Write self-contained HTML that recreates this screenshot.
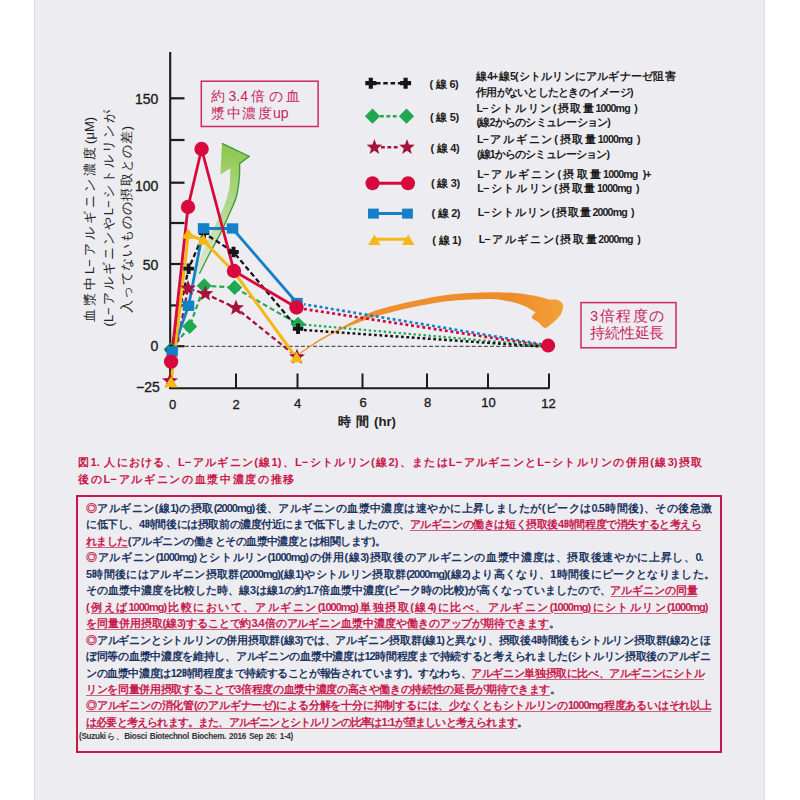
<!DOCTYPE html>
<html lang="ja"><head><meta charset="utf-8"><title>Figure 1</title>
<style>
:root{--k:1;}
html,body{margin:0;padding:0;}
body{width:800px;height:800px;position:relative;overflow:hidden;background:#fff;font-family:"Liberation Sans",sans-serif;}
#panel{position:absolute;left:34px;top:0;width:731px;height:800px;background:#edecf0;box-shadow:inset 2px 0 1px -1px rgba(60,50,80,0.08),inset -2px 0 1px -1px rgba(60,50,80,0.08);}
svg{position:absolute;left:0;top:0;}
.L{position:absolute;white-space:nowrap;overflow:visible;}
.j{text-align:justify;text-align-last:justify;}
.r{color:#c81a4e;text-decoration:underline;text-decoration-color:#d0607f;text-underline-offset:1.5px;text-decoration-thickness:1.1px;}
.m{color:#c81a4e;}
.rot{position:absolute;transform:rotate(-90deg);transform-origin:50% 50%;white-space:nowrap;}
</style></head><body>
<div id="panel"></div>
<svg width="800" height="800" viewBox="0 0 800 800"><path d="M170.2 52.0L170.2 389.0" fill="none" stroke="#1c1c1c" stroke-width="2.10" stroke-linecap="butt" stroke-linejoin="round"/><path d="M169.2 388.2L549.5 388.2" fill="none" stroke="#1c1c1c" stroke-width="2.10" stroke-linecap="butt" stroke-linejoin="round"/><path d="M170.2 98.3L184.5 98.3" fill="none" stroke="#1c1c1c" stroke-width="2.20" stroke-linecap="butt" stroke-linejoin="round"/><path d="M170.2 140.0L184.5 140.0" fill="none" stroke="#1c1c1c" stroke-width="2.20" stroke-linecap="butt" stroke-linejoin="round"/><path d="M170.2 182.7L184.5 182.7" fill="none" stroke="#1c1c1c" stroke-width="2.20" stroke-linecap="butt" stroke-linejoin="round"/><path d="M170.2 223.0L184.5 223.0" fill="none" stroke="#1c1c1c" stroke-width="2.20" stroke-linecap="butt" stroke-linejoin="round"/><path d="M170.2 264.0L184.5 264.0" fill="none" stroke="#1c1c1c" stroke-width="2.20" stroke-linecap="butt" stroke-linejoin="round"/><path d="M170.2 305.4L184.5 305.4" fill="none" stroke="#1c1c1c" stroke-width="2.20" stroke-linecap="butt" stroke-linejoin="round"/><path d="M170.2 346.2L184.5 346.2" fill="none" stroke="#1c1c1c" stroke-width="2.20" stroke-linecap="butt" stroke-linejoin="round"/><path d="M236.0 373.5L236.0 388.0" fill="none" stroke="#1c1c1c" stroke-width="2.00" stroke-linecap="butt" stroke-linejoin="round"/><path d="M297.5 373.5L297.5 388.0" fill="none" stroke="#1c1c1c" stroke-width="2.00" stroke-linecap="butt" stroke-linejoin="round"/><path d="M362.5 373.5L362.5 388.0" fill="none" stroke="#1c1c1c" stroke-width="2.00" stroke-linecap="butt" stroke-linejoin="round"/><path d="M427.0 373.5L427.0 388.0" fill="none" stroke="#1c1c1c" stroke-width="2.00" stroke-linecap="butt" stroke-linejoin="round"/><path d="M488.0 373.5L488.0 388.0" fill="none" stroke="#1c1c1c" stroke-width="2.00" stroke-linecap="butt" stroke-linejoin="round"/><path d="M549.0 373.5L549.0 388.0" fill="none" stroke="#1c1c1c" stroke-width="2.00" stroke-linecap="butt" stroke-linejoin="round"/><path d="M185.0 346.3L548.0 346.3" fill="none" stroke="#555" stroke-width="1.20" stroke-dasharray="4 2.1" stroke-linecap="butt" stroke-linejoin="round"/><defs><linearGradient id="og" x1="300" y1="0" x2="565" y2="0" gradientUnits="userSpaceOnUse"><stop offset="0" stop-color="#f0922e"/><stop offset="0.8" stop-color="#ee8b2c"/><stop offset="1" stop-color="#f3a23a"/></linearGradient></defs><path d="M299.80 352.80 C303.33 350.43 313.30 343.23 321.00 338.60 C328.70 333.97 337.67 329.40 346.00 325.00 C354.33 320.60 362.67 315.53 371.00 312.20 C379.33 308.87 387.67 307.10 396.00 305.00 C404.33 302.90 412.67 301.27 421.00 299.60 C429.33 297.93 437.67 296.10 446.00 295.00 C454.33 293.90 462.67 293.47 471.00 293.00 C479.33 292.53 487.83 292.10 496.00 292.20 C504.17 292.30 512.67 292.80 520.00 293.60 C527.33 294.40 535.17 296.00 540.00 297.00 C544.83 298.00 547.50 299.17 549.00 299.60 C550.25 299.60 554.42 299.12 556.50 299.60 C558.58 300.08 560.38 301.27 561.50 302.50 C562.62 303.73 563.45 304.83 563.20 307.00 C562.95 309.17 561.87 312.75 560.00 315.50 C558.13 318.25 554.50 321.42 552.00 323.50 C549.50 325.58 547.25 328.17 545.00 328.00 C542.75 327.83 540.70 324.23 538.50 322.50 C536.30 320.77 532.30 319.32 531.80 317.60 C531.30 315.88 534.88 313.10 535.50 312.20 C532.92 310.87 526.58 306.35 520.00 304.20 C513.42 302.05 504.17 300.10 496.00 299.30 C487.83 298.50 479.33 299.07 471.00 299.40 C462.67 299.73 454.33 300.27 446.00 301.30 C437.67 302.33 429.33 303.98 421.00 305.60 C412.67 307.22 404.33 308.93 396.00 311.00 C387.67 313.07 379.33 315.23 371.00 318.00 C362.67 320.77 354.33 323.88 346.00 327.60 C337.67 331.32 328.57 335.93 321.00 340.30 C313.43 344.67 304.00 351.55 300.60 353.80 Z" fill="url(#og)"/><defs><linearGradient id="gg" x1="0" y1="1" x2="0" y2="0"><stop offset="0" stop-color="#c4e2a0" stop-opacity="0.2"/><stop offset="0.45" stop-color="#a9d67c" stop-opacity="0.75"/><stop offset="1" stop-color="#8cc64a"/></linearGradient></defs><path d="M222 143.3 L249.2 156.4 L239.60 163.60 C239.55 166.00 239.87 172.43 239.30 178.00 C238.73 183.57 238.00 190.72 236.20 197.00 C234.40 203.28 231.20 209.47 228.50 215.70 C225.80 221.93 223.28 227.85 220.00 234.40 C216.72 240.95 212.23 248.43 208.80 255.00 C205.37 261.57 201.67 268.63 199.40 273.80 C197.13 278.97 195.90 283.97 195.20 286.00 C195.58 282.67 195.55 273.33 197.50 266.00 C199.45 258.67 203.77 249.17 206.90 242.00 C210.03 234.83 213.33 229.27 216.30 223.00 C219.27 216.73 222.52 210.32 224.70 204.40 C226.88 198.48 228.47 192.82 229.40 187.50 C230.33 182.18 230.13 175.72 230.30 172.50 C230.47 169.28 230.38 168.92 230.40 168.20 L220.4 174.4 Z" fill="url(#gg)"/><path d="M222 143.3 L249.2 156.4 L239.60 163.60 C239.55 166.00 239.87 172.43 239.30 178.00 C238.73 183.57 238.00 190.72 236.20 197.00 C234.40 203.28 231.20 209.47 228.50 215.70 C225.80 221.93 223.28 227.85 220.00 234.40 C216.72 240.95 212.23 248.43 208.80 255.00 C205.37 261.57 200.97 270.67 199.40 273.80" fill="none" stroke="#3f9e3f" stroke-width="1.4"/><path d="M304 304.2L548 345.3" fill="none" stroke="#1580c8" stroke-width="2.6" stroke-dasharray="2.9 2.8" stroke-dashoffset="1.3"/><path d="M304 309.0L548 346.4" fill="none" stroke="#cc0c3c" stroke-width="2.7" stroke-dasharray="2.9 2.8"/><path d="M304.0 324.6L548.0 346.2" fill="none" stroke="#1fa84f" stroke-width="2.20" stroke-dasharray="2.4 2.6" stroke-linecap="butt" stroke-linejoin="round"/><path d="M304.0 330.0L548.0 347.0" fill="none" stroke="#161616" stroke-width="2.50" stroke-dasharray="2.8 2.6" stroke-linecap="butt" stroke-linejoin="round"/><path d="M171.0 349.5L189.7 326.5L204.2 285.8L234.6 287.5L298.0 324.2" fill="none" stroke="#1fa84f" stroke-width="2.20" stroke-dasharray="5 3" stroke-linecap="butt" stroke-linejoin="round"/><path d="M170.0 381.0L188.0 288.3L205.3 293.8L236.0 308.0L297.0 357.0" fill="none" stroke="#a8123a" stroke-width="2.30" stroke-dasharray="5 3" stroke-linecap="butt" stroke-linejoin="round"/><path d="M171.0 350.0L188.6 268.6L204.0 233.0L233.5 252.0L298.0 328.8" fill="none" stroke="#161616" stroke-width="2.30" stroke-dasharray="5 3" stroke-linecap="butt" stroke-linejoin="round"/><path d="M172.2 351.3L188.6 305.7L203.5 228.3L232.5 228.5L297.0 303.0" fill="none" stroke="#1580c8" stroke-width="2.80" stroke-linecap="butt" stroke-linejoin="round"/><path d="M171.0 383.0L188.3 234.5L203.5 240.5L234.0 272.0L296.5 358.0" fill="none" stroke="#f6b817" stroke-width="3.00" stroke-linecap="butt" stroke-linejoin="round"/><path d="M171.1 361.6L188.0 207.0L201.6 149.0L234.0 271.0L296.5 307.5" fill="none" stroke="#d8093c" stroke-width="2.80" stroke-linecap="butt" stroke-linejoin="round"/><path d="M171.0 342.0L178.5 349.5L171.0 357.0L163.5 349.5Z" fill="#1fa84f"/><path d="M189.7 319.0L197.2 326.5L189.7 334.0L182.2 326.5Z" fill="#1fa84f"/><path d="M204.2 278.3L211.7 285.8L204.2 293.3L196.7 285.8Z" fill="#1fa84f"/><path d="M234.6 280.0L242.1 287.5L234.6 295.0L227.1 287.5Z" fill="#1fa84f"/><path d="M298.0 316.7L305.5 324.2L298.0 331.7L290.5 324.2Z" fill="#1fa84f"/><path d="M170.0 372.6L172.1 378.1L178.0 378.4L173.4 382.1L174.9 387.8L170.0 384.5L165.1 387.8L166.6 382.1L162.0 378.4L167.9 378.1Z" fill="#a8123a"/><path d="M188.0 279.9L190.1 285.4L196.0 285.7L191.4 289.4L192.9 295.1L188.0 291.8L183.1 295.1L184.6 289.4L180.0 285.7L185.9 285.4Z" fill="#a8123a"/><path d="M205.3 285.4L207.4 290.9L213.3 291.2L208.7 294.9L210.2 300.6L205.3 297.3L200.4 300.6L201.9 294.9L197.3 291.2L203.2 290.9Z" fill="#a8123a"/><path d="M236.0 299.6L238.1 305.1L244.0 305.4L239.4 309.1L240.9 314.8L236.0 311.5L231.1 314.8L232.6 309.1L228.0 305.4L233.9 305.1Z" fill="#a8123a"/><path d="M297.0 348.6L299.1 354.1L305.0 354.4L300.4 358.1L301.9 363.8L297.0 360.5L292.1 363.8L293.6 358.1L289.0 354.4L294.9 354.1Z" fill="#a8123a"/><path d="M169.1 344.8h3.9v3.3h3.3v3.9h-3.3v3.3h-3.9v-3.3h-3.3v-3.9h3.3Z" fill="#161616"/><path d="M186.7 263.4h3.9v3.3h3.3v3.9h-3.3v3.3h-3.9v-3.3h-3.3v-3.9h3.3Z" fill="#161616"/><path d="M202.1 227.8h3.9v3.3h3.3v3.9h-3.3v3.3h-3.9v-3.3h-3.3v-3.9h3.3Z" fill="#161616"/><path d="M231.6 246.8h3.9v3.3h3.3v3.9h-3.3v3.3h-3.9v-3.3h-3.3v-3.9h3.3Z" fill="#161616"/><path d="M296.1 323.6h3.9v3.3h3.3v3.9h-3.3v3.3h-3.9v-3.3h-3.3v-3.9h3.3Z" fill="#161616"/><rect x="166.4" y="346.2" width="11.5" height="10.3" fill="#1580c8"/><rect x="182.8" y="300.6" width="11.5" height="10.3" fill="#1580c8"/><rect x="197.8" y="223.2" width="11.5" height="10.3" fill="#1580c8"/><rect x="226.8" y="223.3" width="11.5" height="10.3" fill="#1580c8"/><rect x="291.2" y="297.9" width="11.5" height="10.3" fill="#1580c8"/><path d="M171.0 376.8L177.5 387.2L164.5 387.2Z" fill="#f6b817"/><path d="M188.3 228.2L194.8 238.8L181.8 238.8Z" fill="#f6b817"/><path d="M203.5 234.2L210.0 244.8L197.0 244.8Z" fill="#f6b817"/><path d="M234.0 265.8L240.5 276.2L227.5 276.2Z" fill="#f6b817"/><path d="M296.5 351.8L303.0 362.2L290.0 362.2Z" fill="#f6b817"/><circle cx="171.1" cy="361.6" r="7.2" fill="#d8093c"/><circle cx="188.0" cy="207.0" r="7.2" fill="#d8093c"/><circle cx="201.6" cy="149.0" r="7.2" fill="#d8093c"/><circle cx="234.0" cy="271.0" r="7.2" fill="#d8093c"/><circle cx="296.5" cy="307.5" r="7.2" fill="#d8093c"/><circle cx="548.2" cy="345.6" r="7.0" fill="#d8093c"/><path d="M171.0 377.0L177.5 387.0L164.5 387.0Z" fill="#f6b817"/><path d="M376.0 83.2L401.0 83.2" fill="none" stroke="#161616" stroke-width="2.40" stroke-dasharray="4.5 2.8" stroke-linecap="butt" stroke-linejoin="round"/><path d="M368.7 77.7h4.2v3.4h3.4v4.2h-3.4v3.4h-4.2v-3.4h-3.4v-4.2h3.4Z" fill="#161616"/><path d="M403.5 77.7h4.2v3.4h3.4v4.2h-3.4v3.4h-4.2v-3.4h-3.4v-4.2h3.4Z" fill="#161616"/><path d="M380.0 116.2L399.0 116.2" fill="none" stroke="#1fa84f" stroke-width="2.40" stroke-dasharray="3.8 2.6" stroke-linecap="butt" stroke-linejoin="round"/><path d="M372.5 108.6L380.1 116.2L372.5 123.8L364.9 116.2Z" fill="#1fa84f"/><path d="M406.5 108.6L414.1 116.2L406.5 123.8L398.9 116.2Z" fill="#1fa84f"/><path d="M381.0 147.3L400.0 147.3" fill="none" stroke="#a8123a" stroke-width="2.40" stroke-dasharray="3.8 2.6" stroke-linecap="butt" stroke-linejoin="round"/><path d="M374.4 139.1L376.4 144.5L382.2 144.8L377.7 148.4L379.2 153.9L374.4 150.7L369.6 153.9L371.1 148.4L366.6 144.8L372.4 144.5Z" fill="#a8123a"/><path d="M407.0 139.1L409.0 144.5L414.8 144.8L410.3 148.4L411.8 153.9L407.0 150.7L402.2 153.9L403.7 148.4L399.2 144.8L405.0 144.5Z" fill="#a8123a"/><path d="M372.0 183.2L408.0 183.2" fill="none" stroke="#d8093c" stroke-width="3.00" stroke-linecap="butt" stroke-linejoin="round"/><circle cx="372.5" cy="183.2" r="7.0" fill="#d8093c"/><circle cx="408.0" cy="183.2" r="7.0" fill="#d8093c"/><path d="M373.0 213.6L407.0 213.6" fill="none" stroke="#1580c8" stroke-width="3.00" stroke-linecap="butt" stroke-linejoin="round"/><rect x="368.0" y="208.6" width="10.8" height="10.0" fill="#1580c8"/><rect x="402.1" y="208.6" width="10.8" height="10.0" fill="#1580c8"/><path d="M375.0 239.2L408.0 239.2" fill="none" stroke="#f6b817" stroke-width="3.00" stroke-linecap="butt" stroke-linejoin="round"/><path d="M374.4 234.5L380.6 245.1L368.1 245.1Z" fill="#f6b817"/><path d="M408.2 234.5L414.4 245.1L401.9 245.1Z" fill="#f6b817"/><rect x="201.3" y="81.2" width="116.8" height="45.3" fill="none" stroke="#cc2a5c" stroke-width="1.5"/><rect x="581" y="302.6" width="95" height="45.2" fill="none" stroke="#cc2a5c" stroke-width="1.5"/><rect x="77" y="496" width="644" height="256" fill="none" stroke="#c8174a" stroke-width="2"/></svg>
<div class="L" style="left:118.3px;width:40.0px;text-align:right;top:90.8px;height:16.8px;line-height:16.8px;font-size:14.0px;font-weight:normal;color:#1c1c1c;-webkit-text-stroke:0.35px currentColor">150</div>
<div class="L" style="left:118.3px;width:40.0px;text-align:right;top:178.2px;height:16.8px;line-height:16.8px;font-size:14.0px;font-weight:normal;color:#1c1c1c;-webkit-text-stroke:0.35px currentColor">100</div>
<div class="L" style="left:118.3px;width:40.0px;text-align:right;top:256.6px;height:16.8px;line-height:16.8px;font-size:14.0px;font-weight:normal;color:#1c1c1c;-webkit-text-stroke:0.35px currentColor">50</div>
<div class="L" style="left:118.3px;width:40.0px;text-align:right;top:338.1px;height:16.8px;line-height:16.8px;font-size:14.0px;font-weight:normal;color:#1c1c1c;-webkit-text-stroke:0.35px currentColor">0</div>
<div class="L" style="left:119.8px;width:40.0px;text-align:right;top:379.4px;height:16.8px;line-height:16.8px;font-size:14.0px;font-weight:normal;color:#1c1c1c;-webkit-text-stroke:0.35px currentColor">−25</div>
<div class="L" style="left:152.5px;width:40.0px;text-align:center;top:397.2px;height:15.6px;line-height:15.6px;font-size:13.0px;font-weight:normal;color:#1c1c1c;-webkit-text-stroke:0.35px currentColor">0</div>
<div class="L" style="left:216.2px;width:40.0px;text-align:center;top:396.8px;height:15.6px;line-height:15.6px;font-size:13.0px;font-weight:normal;color:#1c1c1c;-webkit-text-stroke:0.35px currentColor">2</div>
<div class="L" style="left:277.6px;width:40.0px;text-align:center;top:396.4px;height:15.6px;line-height:15.6px;font-size:13.0px;font-weight:normal;color:#1c1c1c;-webkit-text-stroke:0.35px currentColor">4</div>
<div class="L" style="left:343.0px;width:40.0px;text-align:center;top:395.4px;height:15.6px;line-height:15.6px;font-size:13.0px;font-weight:normal;color:#1c1c1c;-webkit-text-stroke:0.35px currentColor">6</div>
<div class="L" style="left:407.5px;width:40.0px;text-align:center;top:394.8px;height:15.6px;line-height:15.6px;font-size:13.0px;font-weight:normal;color:#1c1c1c;-webkit-text-stroke:0.35px currentColor">8</div>
<div class="L" style="left:468.5px;width:40.0px;text-align:center;top:394.8px;height:15.6px;line-height:15.6px;font-size:13.0px;font-weight:normal;color:#1c1c1c;-webkit-text-stroke:0.35px currentColor">10</div>
<div class="L" style="left:528.5px;width:40.0px;text-align:center;top:395.6px;height:15.6px;line-height:15.6px;font-size:13.0px;font-weight:normal;color:#1c1c1c;-webkit-text-stroke:0.35px currentColor">12</div>
<div class="L j" style="left:337.50px;top:412.92px;width:58.50px;height:17.16px;line-height:17.16px;font-size:13.20px;color:#222;font-weight:bold;-webkit-text-stroke:calc(var(--k) * 0.50px) currentColor;">時間(hr)</div>
<div class="rot j" style="left:-11.9px;top:211.1px;width:205.0px;height:16.9px;line-height:16.9px;font-size:13.0px;color:#222;-webkit-text-stroke:calc(var(--k) * 0.30px) currentColor;">血漿中L−アルギニン濃度(μM)</div>
<div class="rot j" style="left:0.7px;top:209.6px;width:216.0px;height:16.9px;line-height:16.9px;font-size:13.0px;color:#222;-webkit-text-stroke:calc(var(--k) * 0.30px) currentColor;">(L−アルギニンやL−シトルリンが</div>
<div class="rot j" style="left:33.5px;top:211.1px;width:187.0px;height:16.9px;line-height:16.9px;font-size:13.0px;color:#222;-webkit-text-stroke:calc(var(--k) * 0.30px) currentColor;">入ってないものの摂取との差)</div>
<div class="L j" style="left:211.30px;top:87.70px;width:88.60px;height:17.00px;line-height:17.00px;font-size:14.00px;color:#c8245a;font-weight:normal;-webkit-text-stroke:calc(var(--k) * 0.50px) currentColor;">約3.4倍の血</div>
<div class="L j" style="left:211.30px;top:104.50px;width:77.20px;height:17.00px;line-height:17.00px;font-size:14.00px;color:#c8245a;font-weight:normal;-webkit-text-stroke:calc(var(--k) * 0.50px) currentColor;">漿中濃度up</div>
<div class="L j" style="left:590.00px;top:307.90px;width:74.00px;height:17.00px;line-height:17.00px;font-size:14.50px;color:#c8245a;font-weight:normal;letter-spacing:-0.030em;-webkit-text-stroke:calc(var(--k) * 0.50px) currentColor;">3倍程度の</div>
<div class="L j" style="left:590.00px;top:325.10px;width:74.00px;height:17.00px;line-height:17.00px;font-size:14.50px;color:#c8245a;font-weight:normal;letter-spacing:-0.030em;-webkit-text-stroke:calc(var(--k) * 0.50px) currentColor;">持続性延長</div>
<div class="L j" style="left:429.60px;top:76.55px;width:28.50px;height:14.30px;line-height:14.30px;font-size:11.00px;color:#1c1c1c;font-weight:bold;letter-spacing:-0.050em;-webkit-text-stroke:calc(var(--k) * 0.30px) currentColor;">(線6)</div>
<div class="L j" style="left:430.00px;top:110.45px;width:28.50px;height:14.30px;line-height:14.30px;font-size:11.00px;color:#1c1c1c;font-weight:bold;letter-spacing:-0.050em;-webkit-text-stroke:calc(var(--k) * 0.30px) currentColor;">(線5)</div>
<div class="L j" style="left:430.50px;top:140.95px;width:28.50px;height:14.30px;line-height:14.30px;font-size:11.00px;color:#1c1c1c;font-weight:bold;letter-spacing:-0.050em;-webkit-text-stroke:calc(var(--k) * 0.30px) currentColor;">(線4)</div>
<div class="L j" style="left:431.00px;top:176.05px;width:28.50px;height:14.30px;line-height:14.30px;font-size:11.00px;color:#1c1c1c;font-weight:bold;letter-spacing:-0.050em;-webkit-text-stroke:calc(var(--k) * 0.30px) currentColor;">(線3)</div>
<div class="L j" style="left:431.40px;top:205.75px;width:28.50px;height:14.30px;line-height:14.30px;font-size:11.00px;color:#1c1c1c;font-weight:bold;letter-spacing:-0.050em;-webkit-text-stroke:calc(var(--k) * 0.30px) currentColor;">(線2)</div>
<div class="L j" style="left:432.30px;top:232.85px;width:28.50px;height:14.30px;line-height:14.30px;font-size:11.00px;color:#1c1c1c;font-weight:bold;letter-spacing:-0.050em;-webkit-text-stroke:calc(var(--k) * 0.30px) currentColor;">(線1)</div>
<div class="L j" style="left:476.00px;top:70.41px;width:198.70px;height:13.78px;line-height:13.78px;font-size:10.60px;color:#1c1c1c;font-weight:bold;letter-spacing:-0.080em;-webkit-text-stroke:calc(var(--k) * 0.30px) currentColor;">線4+線5(シトルリンにアルギナーゼ阻害</div>
<div class="L j" style="left:476.00px;top:85.91px;width:156.70px;height:13.78px;line-height:13.78px;font-size:10.60px;color:#1c1c1c;font-weight:bold;letter-spacing:-0.080em;-webkit-text-stroke:calc(var(--k) * 0.30px) currentColor;">作用がないとしたときのイメージ)</div>
<div class="L j" style="left:476.50px;top:101.81px;width:160.50px;height:13.78px;line-height:13.78px;font-size:10.60px;color:#1c1c1c;font-weight:bold;letter-spacing:-0.080em;-webkit-text-stroke:calc(var(--k) * 0.30px) currentColor;">L−シトルリン(摂取量1000mg )</div>
<div class="L j" style="left:476.50px;top:116.11px;width:133.50px;height:13.78px;line-height:13.78px;font-size:10.60px;color:#1c1c1c;font-weight:bold;letter-spacing:-0.080em;-webkit-text-stroke:calc(var(--k) * 0.30px) currentColor;">(線2からのシミュレーション)</div>
<div class="L j" style="left:476.90px;top:133.41px;width:162.70px;height:13.78px;line-height:13.78px;font-size:10.60px;color:#1c1c1c;font-weight:bold;letter-spacing:-0.080em;-webkit-text-stroke:calc(var(--k) * 0.30px) currentColor;">L−アルギニン(摂取量1000mg )</div>
<div class="L j" style="left:476.90px;top:148.21px;width:132.10px;height:13.78px;line-height:13.78px;font-size:10.60px;color:#1c1c1c;font-weight:bold;letter-spacing:-0.080em;-webkit-text-stroke:calc(var(--k) * 0.30px) currentColor;">(線1からのシミュレーション)</div>
<div class="L j" style="left:477.30px;top:168.41px;width:173.40px;height:13.78px;line-height:13.78px;font-size:10.60px;color:#1c1c1c;font-weight:bold;letter-spacing:-0.080em;-webkit-text-stroke:calc(var(--k) * 0.30px) currentColor;">L−アルギニン(摂取量1000mg )+</div>
<div class="L j" style="left:477.30px;top:182.41px;width:161.40px;height:13.78px;line-height:13.78px;font-size:10.60px;color:#1c1c1c;font-weight:bold;letter-spacing:-0.080em;-webkit-text-stroke:calc(var(--k) * 0.30px) currentColor;">L−シトルリン(摂取量1000mg )</div>
<div class="L j" style="left:477.80px;top:206.01px;width:155.80px;height:13.78px;line-height:13.78px;font-size:10.60px;color:#1c1c1c;font-weight:bold;letter-spacing:-0.080em;-webkit-text-stroke:calc(var(--k) * 0.30px) currentColor;">L−シトルリン(摂取量2000mg )</div>
<div class="L j" style="left:478.70px;top:233.11px;width:161.30px;height:13.78px;line-height:13.78px;font-size:10.60px;color:#1c1c1c;font-weight:bold;letter-spacing:-0.080em;-webkit-text-stroke:calc(var(--k) * 0.30px) currentColor;">L−アルギニン(摂取量2000mg )</div>
<div class="L j" style="left:78.20px;top:455.42px;width:624.00px;height:14.56px;line-height:14.56px;font-size:11.20px;color:#c9184a;font-weight:bold;-webkit-text-stroke:calc(var(--k) * 0.60px) currentColor;">図1. 人における、L−アルギニン(線1)、L−シトルリン(線2)、またはL−アルギニンとL−シトルリンの併用(線3)摂取</div>
<div class="L j" style="left:78.20px;top:471.92px;width:216.00px;height:14.56px;line-height:14.56px;font-size:11.20px;color:#c9184a;font-weight:bold;-webkit-text-stroke:calc(var(--k) * 0.60px) currentColor;">後のL−アルギニンの血漿中濃度の推移</div>
<div class="L j" style="left:86.00px;top:500.00px;width:625.00px;height:16.00px;line-height:16.00px;font-size:11.00px;color:#1b3562;font-weight:bold;letter-spacing:-0.090em;-webkit-text-stroke:calc(var(--k) * 0.60px) currentColor;"><span class="m">◎</span>アルギニン(線1)の摂取(2000mg)後、アルギニンの血漿中濃度は速やかに上昇しましたが(ピークは0.5時間後)、その後急激</div>
<div class="L j" style="left:86.00px;top:516.45px;width:615.00px;height:16.00px;line-height:16.00px;font-size:11.00px;color:#1b3562;font-weight:bold;letter-spacing:-0.090em;-webkit-text-stroke:calc(var(--k) * 0.60px) currentColor;">に低下し、4時間後には摂取前の濃度付近にまで低下しましたので、<span class="r">アルギニンの働きは短く摂取後4時間程度で消失すると考えら</span></div>
<div class="L j" style="left:86.00px;top:532.90px;width:298.80px;height:16.00px;line-height:16.00px;font-size:11.00px;color:#1b3562;font-weight:bold;letter-spacing:-0.090em;-webkit-text-stroke:calc(var(--k) * 0.60px) currentColor;"><span class="r">れました</span>(アルギニンの働きとその血漿中濃度とは相関します)。</div>
<div class="L j" style="left:86.00px;top:549.35px;width:616.60px;height:16.00px;line-height:16.00px;font-size:11.00px;color:#1b3562;font-weight:bold;letter-spacing:-0.090em;-webkit-text-stroke:calc(var(--k) * 0.60px) currentColor;"><span class="m">◎</span>アルギニン(1000mg)とシトルリン(1000mg)の併用(線3)摂取後のアルギニンの血漿中濃度は、摂取後速やかに上昇し、0.</div>
<div class="L j" style="left:86.00px;top:565.80px;width:628.00px;height:16.00px;line-height:16.00px;font-size:11.00px;color:#1b3562;font-weight:bold;letter-spacing:-0.090em;-webkit-text-stroke:calc(var(--k) * 0.60px) currentColor;">5時間後にはアルギニン摂取群(2000mg)(線1)やシトルリン摂取群(2000mg)(線2)より高くなり、1時間後にピークとなりました。</div>
<div class="L j" style="left:86.00px;top:582.25px;width:611.00px;height:16.00px;line-height:16.00px;font-size:11.00px;color:#1b3562;font-weight:bold;letter-spacing:-0.090em;-webkit-text-stroke:calc(var(--k) * 0.60px) currentColor;">その血漿中濃度を比較した時、線3は線1の約1.7倍血漿中濃度(ピーク時の比較)が高くなっていましたので、<span class="r">アルギニンの同量</span></div>
<div class="L j" style="left:86.00px;top:598.70px;width:621.50px;height:16.00px;line-height:16.00px;font-size:11.00px;color:#1b3562;font-weight:bold;letter-spacing:-0.090em;-webkit-text-stroke:calc(var(--k) * 0.60px) currentColor;"><span class="r">(例えば1000mg)比較において、アルギニン(1000mg)単独摂取(線4)に比べ、アルギニン(1000mg)にシトルリン(1000mg)</span></div>
<div class="L j" style="left:86.00px;top:615.15px;width:473.00px;height:16.00px;line-height:16.00px;font-size:11.00px;color:#1b3562;font-weight:bold;letter-spacing:-0.090em;-webkit-text-stroke:calc(var(--k) * 0.60px) currentColor;"><span class="r">を同量併用摂取(線3)することで約3.4倍のアルギニン血漿中濃度や働きのアップが期待できます</span>。</div>
<div class="L j" style="left:86.00px;top:631.60px;width:624.00px;height:16.00px;line-height:16.00px;font-size:11.00px;color:#1b3562;font-weight:bold;letter-spacing:-0.090em;-webkit-text-stroke:calc(var(--k) * 0.60px) currentColor;"><span class="m">◎</span>アルギニンとシトルリンの併用摂取群(線3)では、アルギニン摂取群(線1)と異なり、摂取後4時間後もシトルリン摂取群(線2)とほ</div>
<div class="L j" style="left:86.00px;top:648.05px;width:624.00px;height:16.00px;line-height:16.00px;font-size:11.00px;color:#1b3562;font-weight:bold;letter-spacing:-0.090em;-webkit-text-stroke:calc(var(--k) * 0.60px) currentColor;">ぼ同等の血漿中濃度を維持し、アルギニンの血漿中濃度は12時間程度まで持続すると考えられました(シトルリン摂取後のアルギニ</div>
<div class="L j" style="left:86.00px;top:664.50px;width:618.00px;height:16.00px;line-height:16.00px;font-size:11.00px;color:#1b3562;font-weight:bold;letter-spacing:-0.090em;-webkit-text-stroke:calc(var(--k) * 0.60px) currentColor;">ンの血漿中濃度は12時間程度まで持続することが報告されています)。すなわち、<span class="r">アルギニン単独摂取に比べ、アルギニンにシトル</span></div>
<div class="L j" style="left:86.00px;top:680.95px;width:474.00px;height:16.00px;line-height:16.00px;font-size:11.00px;color:#1b3562;font-weight:bold;letter-spacing:-0.090em;-webkit-text-stroke:calc(var(--k) * 0.60px) currentColor;"><span class="r">リンを同量併用摂取することで3倍程度の血漿中濃度の高さや働きの持続性の延長が期待できます</span>。</div>
<div class="L j" style="left:86.00px;top:697.40px;width:625.00px;height:16.00px;line-height:16.00px;font-size:11.00px;color:#1b3562;font-weight:bold;letter-spacing:-0.090em;-webkit-text-stroke:calc(var(--k) * 0.60px) currentColor;"><span class="r">◎アルギニンの消化管(のアルギナーゼ)による分解を十分に抑制するには、少なくともシトルリンの1000mg程度あるいはそれ以上</span></div>
<div class="L j" style="left:86.00px;top:713.85px;width:441.00px;height:16.00px;line-height:16.00px;font-size:11.00px;color:#1b3562;font-weight:bold;letter-spacing:-0.090em;-webkit-text-stroke:calc(var(--k) * 0.60px) currentColor;"><span class="r">は必要と考えられます。また、アルギニンとシトルリンの比率は1:1が望ましいと考えられます</span>。</div>
<div class="L j" style="left:79.00px;top:732.47px;width:214.00px;height:10.66px;line-height:10.66px;font-size:8.20px;color:#333;font-weight:bold;letter-spacing:-0.040em;">(Suzukiら、Biosci Biotechnol Biochem. 2016 Sep 26: 1-4)</div>
<script>(function(){try{var s=document.createElement('span');s.style.cssText='position:absolute;left:-9999px;top:0;visibility:hidden;white-space:nowrap;font:100px "Liberation Sans",sans-serif';s.textContent='漢字漢字';document.body.appendChild(s);var w=s.getBoundingClientRect().width;document.body.removeChild(s);if(w>360){document.documentElement.style.setProperty('--k','0');}}catch(e){}})();</script>
</body></html>
